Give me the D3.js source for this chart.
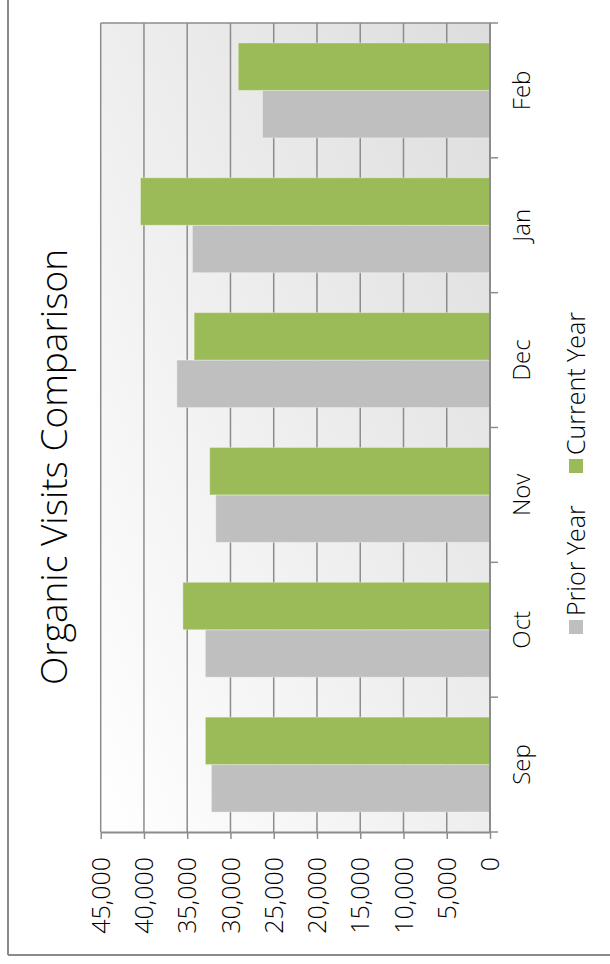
<!DOCTYPE html>
<html>
<head>
<meta charset="utf-8">
<script src="https://cdn.jsdelivr.net/npm/d3@7"></script>
<style>
  body { margin: 0; background: #fff; }
  text { font-family: "Open Sans", Lato, sans-serif; fill: #000; }
</style>
</head>
<body>
<svg id="chart"></svg>
<script>
// data (chart is drawn rotated 90deg)
const months = ["Sep", "Oct", "Nov", "Dec", "Jan", "Feb"];
const priorYear = [32200, 32900, 31700, 36200, 34400, 26300];
const currentYear = [32900, 35500, 32400, 34200, 40400, 29100];
const seriesNames = ["Prior Year", "Current Year"];
const seriesColors = ["#bfbfbf", "#9bbb59"];
const valueTicks = [0, 5000, 10000, 15000, 20000, 25000, 30000, 35000, 40000, 45000];

const W = 610, H = 964;
const svg = d3.select("#chart").attr("width", W).attr("height", H);

// outer frame (only left and bottom edges show)
svg.append("line").attr("x1", 8).attr("x2", 8).attr("y1", 0).attr("y2", 955)
  .attr("stroke", "#8a8a8a").attr("stroke-width", 2);
svg.append("line").attr("x1", 8).attr("x2", W).attr("y1", 955).attr("y2", 955)
  .attr("stroke", "#8a8a8a").attr("stroke-width", 2);

const plot = { left: 100.7, right: 490, top: 23, bottom: 832 };

// value scale runs right -> left
const x = d3.scaleLinear().domain([0, 45000]).range([plot.right, plot.left]);
// categories: Sep at bottom, Feb at top
const y = d3.scaleBand().domain(months.slice().reverse()).range([plot.top, plot.bottom]);
// series inside a band: current year on top, prior below
const ySeries = d3.scaleBand().domain(["Current Year", "Prior Year"])
  .range([0, y.bandwidth()]).paddingOuter(0.42);

// background gradient
const defs = svg.append("defs");
const grad = defs.append("linearGradient").attr("id", "bg")
  .attr("x1", 0).attr("y1", 1).attr("x2", 1).attr("y2", 0);
grad.append("stop").attr("offset", "0%").attr("stop-color", "#ffffff");
grad.append("stop").attr("offset", "100%").attr("stop-color", "#dddddd");

svg.append("rect")
  .attr("x", plot.left).attr("y", plot.top)
  .attr("width", plot.right - plot.left).attr("height", plot.bottom - plot.top)
  .attr("fill", "url(#bg)");

// gridlines
svg.append("g").selectAll("line")
  .data(valueTicks.filter(d => d > 0))
  .join("line")
  .attr("x1", d => x(d)).attr("x2", d => x(d))
  .attr("y1", plot.top).attr("y2", plot.bottom)
  .attr("stroke", "#8c8c8c").attr("stroke-width", 1.5);

// top border of plot area
svg.append("line").attr("x1", plot.left).attr("x2", plot.right + 8)
  .attr("y1", plot.top).attr("y2", plot.top)
  .attr("stroke", "#8c8c8c").attr("stroke-width", 1.5);

// bars
const rows = months.map((m, i) => ({ month: m, values: [priorYear[i], currentYear[i]] }));
const groups = svg.append("g").selectAll("g")
  .data(rows)
  .join("g")
  .attr("transform", d => `translate(0,${y(d.month)})`);

groups.selectAll("rect")
  .data(d => d.values.map((v, j) => ({ name: seriesNames[j], value: v, color: seriesColors[j] })))
  .join("rect")
  .attr("x", d => x(d.value))
  .attr("width", d => x(0) - x(d.value))
  .attr("y", d => ySeries(d.name))
  .attr("height", ySeries.bandwidth())
  .attr("fill", d => d.color)
  .attr("stroke", "rgba(255,255,255,0.35)")
  .attr("stroke-width", 1);

// value axis (along bottom)
const xAxis = svg.append("g")
  .attr("transform", `translate(0,${plot.bottom})`)
  .call(d3.axisBottom(x).tickValues(valueTicks).tickSize(7).tickSizeOuter(0)
    .tickFormat(d3.format(",")));
xAxis.select(".domain").attr("stroke", "#8c8c8c").attr("stroke-width", 2);
xAxis.selectAll(".tick line").attr("stroke", "#8c8c8c").attr("stroke-width", 1.5);
xAxis.selectAll(".tick text")
  .attr("transform", "rotate(-90)")
  .attr("x", -25).attr("y", 0).attr("dy", "0.35em")
  .attr("text-anchor", "end")
  .style("font-size", "25px").style("font-weight", 300);

// category axis (along right side), ticks at band edges
const yAxis = svg.append("g");
yAxis.append("line")
  .attr("x1", plot.right).attr("x2", plot.right)
  .attr("y1", plot.top).attr("y2", plot.bottom)
  .attr("stroke", "#8c8c8c").attr("stroke-width", 2);
yAxis.selectAll("line.tick")
  .data(months)
  .join("line")
  .attr("class", "tick")
  .attr("x1", plot.right).attr("x2", plot.right + 8)
  .attr("y1", d => y(d) + y.bandwidth()).attr("y2", d => y(d) + y.bandwidth())
  .attr("stroke", "#8c8c8c").attr("stroke-width", 1.5);
yAxis.selectAll("text")
  .data(months)
  .join("text")
  .attr("transform", d => `translate(522,${y(d) + y.bandwidth() / 2}) rotate(-90)`)
  .attr("dy", "0.35em")
  .attr("text-anchor", "middle")
  .style("font-size", "24px").style("font-weight", 300)
  .text(d => d);

// title
svg.append("text")
  .attr("transform", "translate(54,467) rotate(-90)")
  .attr("dy", "0.35em")
  .attr("text-anchor", "middle")
  .style("font-size", "37px").style("font-weight", 300)
  .text("Organic Visits Comparison");

// legend, reading bottom to top
const legend = svg.append("g").attr("transform", "translate(576,634) rotate(-90)");
const legendItems = [
  { name: seriesNames[0], color: seriesColors[0], offset: 0 },
  { name: seriesNames[1], color: seriesColors[1], offset: 161 }
];
const li = legend.selectAll("g").data(legendItems).join("g")
  .attr("transform", d => `translate(${d.offset},0)`);
li.append("rect").attr("x", 0).attr("y", -7).attr("width", 14).attr("height", 14)
  .attr("fill", d => d.color);
li.append("text").attr("x", 18).attr("dy", "0.35em")
  .style("font-size", "25px").style("font-weight", 300)
  .text(d => d.name);
</script>
</body>
</html>
